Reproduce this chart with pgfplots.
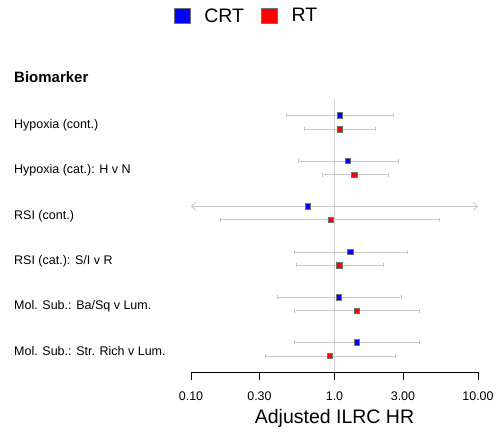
\documentclass[border=0pt]{standalone}
\usepackage{pgfplots}
\pgfplotsset{compat=1.18}
\usetikzlibrary{arrows.meta}
\usepackage{fontspec}
\setmainfont{Liberation Sans}
\definecolor{cigray}{HTML}{C8C8C8}
\definecolor{refgray}{HTML}{D3D3D3}
\definecolor{markgray}{HTML}{707070}
\definecolor{crtblue}{HTML}{0000FF}
\definecolor{rtred}{HTML}{FF0000}

\newcommand\lblfont{\fontsize{12.5bp}{15bp}\selectfont}

\begin{document}
\begin{tikzpicture}[x=1bp,y=1bp]
\path[use as bounding box] (0,0) rectangle (502,-439);
\begin{axis}[
  at={(191bp,-372bp)}, anchor=south west,
  scale only axis, width=287bp, height=273bp,
  xmode=log, xmin=0.1, xmax=10,
  ymin=-372, ymax=-99,
  axis x line*=bottom, axis y line=none,
  axis line style={black, line width=0.8bp},
  xtick={0.1,0.3,1,3,10},
  xticklabels={0.10,0.30,1.0,3.00,10.00},
  xminorticks=false,
  tick align=outside, major tick length=8bp,
  tick style={black, line width=0.8bp},
  xticklabel style={font=\lblfont, anchor=base, yshift=-20bp},
  clip=false,
  legend columns=2,
  legend style={at={(axis description cs:0.19,1.304)}, anchor=center,
    draw=none, fill=none, font=\fontsize{19.5bp}{22bp}\selectfont,
    nodes={inner sep=0pt},
    /tikz/every odd column/.append style={column sep=14bp},
    /tikz/every even column/.append style={column sep=17bp}},
  cistyle/.style={cigray, line width=0.9bp, mark=|, mark size=2bp,
    mark options={cigray, line width=0.9bp}, forget plot},
]
% reference line at HR = 1
\addplot[refgray, line width=0.9bp, forget plot] coordinates {(1,-99) (1,-372)};

% confidence intervals, CRT (upper row of each pair)
\addplot[cistyle] coordinates {(0.462,-115.3) (2.57,-115.3)};
\addplot[cistyle] coordinates {(0.56,-161) (2.78,-161)};
\addplot[cigray, line width=0.9bp, {Straight Barb[length=4bp,width=8bp]}-{Straight Barb[length=4bp,width=8bp]}, forget plot]
  coordinates {(0.1,-206.3) (10,-206.3)};
\addplot[cistyle] coordinates {(0.522,-252) (3.2,-252)};
\addplot[cistyle] coordinates {(0.40,-297.3) (2.91,-297.3)};
\addplot[cistyle] coordinates {(0.528,-342.3) (3.90,-342.3)};

% confidence intervals, RT (lower row of each pair)
\addplot[cistyle] coordinates {(0.613,-129.3) (1.94,-129.3)};
\addplot[cistyle] coordinates {(0.818,-174.7) (2.37,-174.7)};
\addplot[cistyle] coordinates {(0.161,-219.7) (5.37,-219.7)};
\addplot[cistyle] coordinates {(0.542,-265.3) (2.19,-265.3)};
\addplot[cistyle] coordinates {(0.528,-310.7) (3.90,-310.7)};
\addplot[cistyle] coordinates {(0.33,-356) (2.64,-356)};

% hazard ratio estimates
\addplot[only marks, mark=square*, mark size=2.6bp, fill=crtblue, draw=markgray, line width=0.6bp,
  legend image code/.code={\draw[fill=crtblue, draw=markgray, line width=0.8bp] (0bp,-7.85bp) rectangle (15.7bp,7.85bp);}]
  coordinates {(1.087,-115.3) (1.236,-161) (0.65,-206.3) (1.29,-252) (1.075,-297.3) (1.43,-342.3)};
\addlegendentry{CRT}
\addplot[only marks, mark=square*, mark size=2.6bp, fill=rtred, draw=markgray, line width=0.6bp,
  legend image code/.code={\draw[fill=rtred, draw=markgray, line width=0.8bp] (0bp,-7.85bp) rectangle (15.7bp,7.85bp);}]
  coordinates {(1.09,-129.3) (1.374,-174.7) (0.94,-219.7) (1.08,-265.3) (1.43,-310.7) (0.93,-356)};
\addlegendentry{RT}
\end{axis}

% row labels
\begin{scope}[every node/.style={anchor=base west, inner sep=0pt, font=\lblfont}]
\node[font=\fontsize{15bp}{18bp}\selectfont\bfseries] at (14,-82.7) {Biomarker};
\node at (14,-128.3) {Hypoxia (cont.)};
\node at (14,-173.3) {Hypoxia (cat.): H v N};
\node at (14,-219.3) {RSI (cont.)};
\node at (14,-264.7) {RSI (cat.): S/I v R};
\node at (14,-309.7) {Mol. Sub.: Ba/Sq v Lum.};
\node at (14,-355) {Mol. Sub.: Str. Rich v Lum.};
\end{scope}

% axis title
\node[anchor=base, inner sep=0pt, font=\fontsize{19.5bp}{22bp}\selectfont] at (334.5,-423.3) {Adjusted ILRC HR};
\end{tikzpicture}
\end{document}
